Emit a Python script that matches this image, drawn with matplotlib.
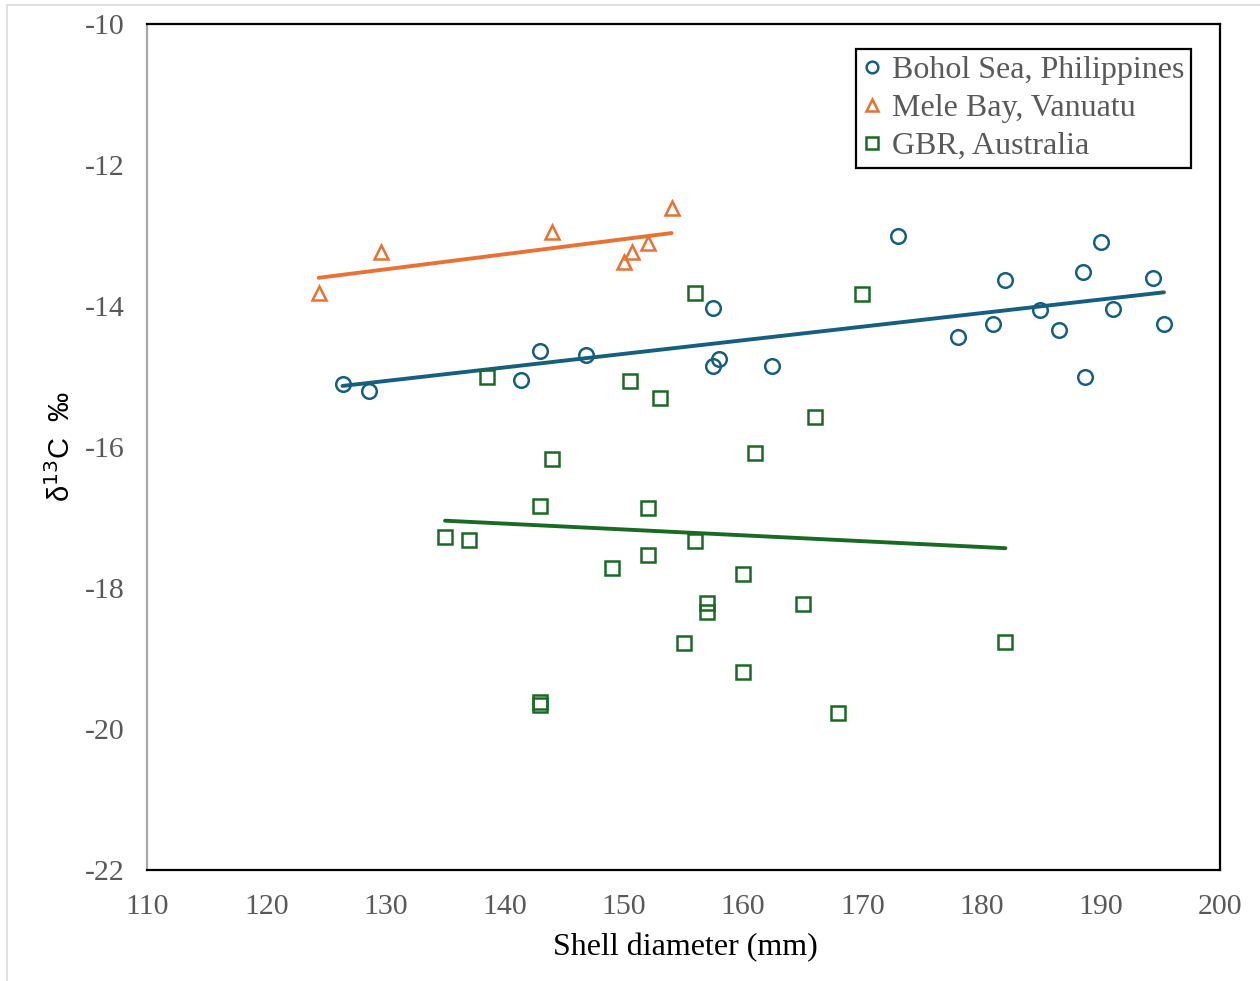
import numpy as np
import matplotlib.pyplot as plt
from matplotlib.patches import Rectangle

# Bohol Sea, Philippines
bohol_x = [126.4, 128.6, 141.4, 143.0, 146.8, 157.5, 157.5, 158.0, 162.4, 173.0, 178.0,
           181.0, 182.0, 184.9, 186.5, 188.5, 188.7, 190.0, 191.0, 194.4, 195.3]
bohol_y = [-15.11, -15.21, -15.05, -14.64, -14.70, -14.03, -14.85, -14.75, -14.85, -13.01, -14.44,
           -14.26, -13.63, -14.06, -14.34, -13.52, -15.01, -13.09, -14.04, -13.60, -14.26]

# Mele Bay, Vanuatu
mele_x = [124.4, 129.6, 144.0, 150.0, 150.7, 152.0, 154.0]
mele_y = [-13.81, -13.24, -12.95, -13.37, -13.24, -13.11, -12.61]

# GBR, Australia
gbr_x = [138.5, 150.5, 153.0, 166.0, 161.0, 144.0, 143.0, 152.0, 135.0, 137.0, 156.0, 152.0, 149.0,
         160.0, 157.0, 157.0, 165.0, 155.0, 160.0, 143.0, 143.0, 168.0, 156.0, 170.0, 182.0]
gbr_y = [-15.01, -15.06, -15.31, -15.58, -16.08, -16.17, -16.83, -16.87, -17.27, -17.32, -17.34, -17.53, -17.72,
         -17.80, -18.21, -18.34, -18.23, -18.78, -19.19, -19.61, -19.66, -19.77, -13.82, -13.83, -18.77]

series = [
    ("Bohol Sea, Philippines", bohol_x, bohol_y, "o", "#156082"),
    ("Mele Bay, Vanuatu", mele_x, mele_y, "^", "#E97132"),
    ("GBR, Australia", gbr_x, gbr_y, "s", "#196B24"),
]

plt.rcParams['font.family'] = ['Liberation Serif', 'DejaVu Serif']
plt.rcParams['axes.unicode_minus'] = False

fig = plt.figure(figsize=(12.6, 9.81), dpi=100)
ax = fig.add_axes([147/1260, 1-870/981, (1220-147)/1260, (870-24)/981])

for name, xs, ys, mk, col in series:
    xs = np.array(xs)
    ys = np.array(ys)
    ax.plot(xs, ys, linestyle='none', marker=mk, markersize=10.5, markerfacecolor='none',
            markeredgecolor=col, markeredgewidth=1.8, label=name, zorder=3)
    # trend line over the data range
    k, b = np.polyfit(xs, ys, 1)
    xx = np.array([xs.min(), xs.max()])
    ax.plot(xx, k*xx + b, color=col, lw=2.8, solid_capstyle='round', zorder=2)

ax.set_xlim(110, 200)
ax.set_ylim(-22, -10)
ax.set_xticks(np.arange(110, 201, 10))
ax.set_yticks(np.arange(-22, -9, 2))
ax.tick_params(length=0, labelsize=21.5, labelcolor='#595959')
ax.tick_params(axis='x', pad=17)
ax.tick_params(axis='y', pad=16)

for s in ['top', 'right', 'bottom']:
    ax.spines[s].set_color('black')
    ax.spines[s].set_linewidth(1.6)
ax.spines['left'].set_color('#a6a6a6')
ax.spines['left'].set_linewidth(1.6)

ax.set_xlabel('Shell diameter (mm)', fontsize=23)
ax.xaxis.set_label_coords((685-147)/(1220-147), -(933-870)/(870-24))
ax.set_ylabel('δ$^{13}$C  ‰', fontsize=21, family=['Liberation Sans', 'DejaVu Sans'])
ax.yaxis.set_label_coords(-(147-76)/(1220-147), (870-447)/(870-24))

leg = ax.legend(loc='upper right', fontsize=23, markerscale=0.8, frameon=True, fancybox=False,
                handlelength=0.6, handletextpad=0.3, borderpad=0.22, labelspacing=0.26,
                borderaxespad=0, framealpha=1)
leg.get_frame().set_edgecolor('black')
leg.get_frame().set_linewidth(1.6)
for t in leg.get_texts():
    t.set_color('#595959')
leg.set_bbox_to_anchor((1191/1260, 1-49/981), transform=fig.transFigure)

# light outline of the chart area
fig.patches.append(Rectangle((7/1260, -0.01), 1.02, 1-5/981+0.01, transform=fig.transFigure,
                             fill=False, edgecolor='#d9d9d9', lw=1.2))

fig.savefig('out.png', dpi=100)
